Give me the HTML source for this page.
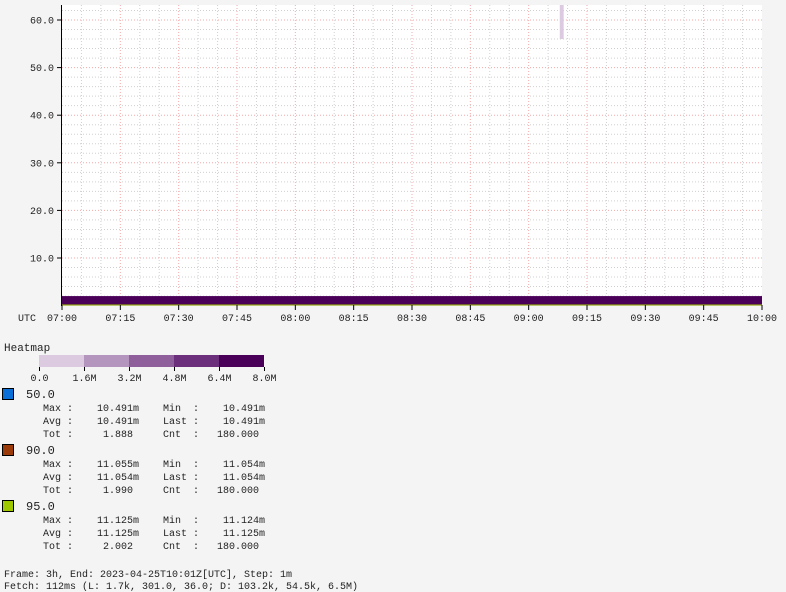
<!DOCTYPE html>
<html><head><meta charset="utf-8"><style>
body{margin:0;background:#f4f4f4;}
svg{display:block;font-family:"Liberation Mono",monospace;}
text{white-space:pre;}
</style></head><body>
<svg id="chart" width="786" height="592" xmlns="http://www.w3.org/2000/svg">
<rect x="0" y="0" width="786" height="592" fill="#f4f4f4"/>
<rect x="62" y="5" width="700" height="300" fill="#ffffff"/>
<g id="grid"></g>
<g id="cells"></g>
<g id="axes"></g>
<g id="legend" font-size="10" fill="#222"></g>
</svg>
<script>
// ---- data ----
const xTickLabels = ["07:00","07:15","07:30","07:45","08:00","08:15","08:30","08:45","09:00","09:15","09:30","09:45","10:00"];
const yTickValues = [10,20,30,40,50,60];
const bandLow = [0, 56];          // bucket lower bounds
const bandHigh = [2, 64];         // bucket upper bounds
const bandStartMin = [0, 128];    // start minute after 07:00
const bandEndMin = [180, 129];    // end minute
const bandCount = [8.0, 1.0];     // count in millions
const scaleTicks = ["0.0","1.6M","3.2M","4.8M","6.4M","8.0M"];
const scaleColors = ["#dccbe0","#b495bd","#8f5f9c","#6b2f7b","#4a0058"];
const seriesNames = ["50.0","90.0","95.0"];
const seriesColors = ["#0a6fd6","#9b3b0a","#a0c800"];
const seriesMax = ["10.491m","11.055m","11.125m"];
const seriesMin = ["10.491m","11.054m","11.124m"];
const seriesAvg = ["10.491m","11.054m","11.125m"];
const seriesLast = ["10.491m","11.054m","11.125m"];
const seriesTot = ["1.888","1.990","2.002"];
const seriesCnt = ["180.000","180.000","180.000"];

const NS="http://www.w3.org/2000/svg";
const L=62,R=762,T=5,B=305.6;
const xs=m=>L+(R-L)*m/180;
const ys=v=>B-(v/60)*(B-20);
function mk(tag,attrs,parent,txt){const e=document.createElementNS(NS,tag);for(const k in attrs)e.setAttribute(k,attrs[k]);if(txt!==undefined)e.textContent=txt;parent.appendChild(e);return e;}
const grid=document.getElementById('grid'),cells=document.getElementById('cells'),axes=document.getElementById('axes'),leg=document.getElementById('legend');

for(let m=5;m<180;m+=5){const major=m%15===0;
 const l=mk('line',{x1:xs(m),x2:xs(m),y1:T,y2:305,stroke:major?'#f4aaaa':'#d0d0d0','stroke-dasharray':'1,2','stroke-width':1},grid);
 
 }
for(let v=2;v<=63;v+=2){const major=v%10===0;
 const l=mk('line',{x1:L,x2:R,y1:ys(v),y2:ys(v),stroke:major?'#f4aaaa':'#d0d0d0','stroke-dasharray':'1,2','stroke-width':1},grid);
 
 }

function colorFor(c){const i=Math.min(4,Math.max(0,Math.ceil(c/1.6)-1));return scaleColors[i];}
for(let i=0;i<bandLow.length;i++){
 const y1=Math.max(T,ys(bandHigh[i])),y2=ys(bandLow[i]);
 const r=mk('rect',{x:xs(bandStartMin[i]),y:y1,width:xs(bandEndMin[i])-xs(bandStartMin[i]),height:y2-y1,fill:colorFor(bandCount[i])},cells);
 
 }
const gl=mk('line',{x1:L,x2:R,y1:305,y2:305,stroke:'#a0c800','stroke-width':1},cells);



const ya=mk('line',{x1:61.5,x2:61.5,y1:T,y2:306,stroke:'#000'},axes);


yTickValues.forEach(v=>{mk('line',{x1:57,x2:61,y1:ys(v),y2:ys(v),stroke:'#000'},axes);
 const t=mk('text',{x:54,y:ys(v)+3.5,'text-anchor':'end','font-size':10,fill:'#222'},axes,v.toFixed(1));
 
 });
xTickLabels.forEach((s,i)=>{const x=xs(i*15);mk('line',{x1:x,x2:x,y1:305,y2:310,stroke:'#000'},axes);
 const t=mk('text',{x:x,y:321,'text-anchor':'middle','font-size':10,fill:'#222'},axes,s);
 
 });
const utc=mk('text',{x:18,y:321,'font-size':10,fill:'#222'},axes,'UTC');



// legend
const ht=mk('text',{x:4,y:351,'font-size':11},leg,'Heatmap');


scaleColors.forEach((c,i)=>{const r=mk('rect',{x:39+i*45,y:355,width:45,height:12,fill:c},leg);
 
 });
scaleTicks.forEach((s,i)=>{mk('line',{x1:39.5+i*45,x2:39.5+i*45,y1:367,y2:371,stroke:'#000'},leg);
 const t=mk('text',{x:39.5+i*45,y:381,'text-anchor':'middle'},leg,s);
 
 });
const pad=(s,n)=>s.padStart(n,' ');
seriesNames.forEach((n,i)=>{const y0=394+i*56;
 const sw=mk('rect',{x:2.5,y:y0-5.5,width:11,height:11,fill:seriesColors[i],stroke:'#000'},leg);
 
 
 const nt=mk('text',{x:26,y:y0+4,'font-size':12},leg,n);
 
 
 const lines=["Max :"+pad(seriesMax[i],11)+"    Min  :"+pad(seriesMin[i],11),
  "Avg :"+pad(seriesAvg[i],11)+"    Last :"+pad(seriesLast[i],11),
  "Tot :"+pad(seriesTot[i],10)+"     Cnt  :"+pad(seriesCnt[i],10)];
 lines.forEach((s,j)=>{const t=mk('text',{x:43,y:y0+17+j*13},leg,s);
  
  });});
const f1=mk('text',{x:4,y:577},leg,'Frame: 3h, End: 2023-04-25T10:01Z[UTC], Step: 1m');


const f2=mk('text',{x:4,y:589},leg,'Fetch: 112ms (L: 1.7k, 301.0, 36.0; D: 103.2k, 54.5k, 6.5M)');


</script>
</body></html>
